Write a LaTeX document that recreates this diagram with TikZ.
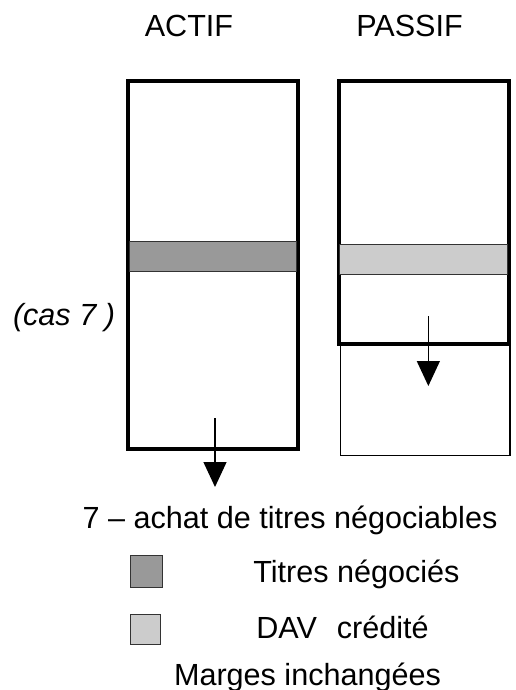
\documentclass[tikz,border=0pt]{standalone}
\usepackage{fontspec}
\setmainfont{Liberation Sans}
\usepackage{tikz}
\usetikzlibrary{arrows.meta,positioning}
\definecolor{gray1}{RGB}{153,153,153}
\definecolor{gray2}{RGB}{204,204,204}

\begin{document}
\begin{tikzpicture}
[auto,
bilan/.style ={rectangle, draw=black, line width=0.08cm, fill=white,
inner sep=0pt, outer sep=0pt},
extra/.style ={rectangle, draw=black, line width=0.7pt, fill=white,
inner sep=0pt, outer sep=0pt},
band/.style ={rectangle, draw=black!80, line width=0.5pt,
inner sep=0pt, outer sep=0pt},
label/.style ={inner sep=0pt, anchor=base},
line/.style ={draw, line width=0.75pt, -{Triangle[width=0.46cm,length=0.5cm]}}]
\fontsize{17.4}{20}\selectfont
\useasboundingbox (0,0) rectangle (10.3,-13.8);
%titles
\node [label]                (actif)   at (3.78, -0.74)        {ACTIF};
\node [label]                (passif)  at (8.19, -0.74)        {PASSIF};
\node [label]                (cas)     at (1.28, -6.5)         {\itshape (cas 7 )};
%balance sheet
\node [bilan, minimum width=3.394cm, minimum height=7.354cm] (ba)  at (4.257, -5.297) {};
\node [band, fill=gray1, minimum width=3.34cm, minimum height=0.586cm] (ta)  at (4.25, -5.127) {};
\node [extra, minimum width=3.386cm, minimum height=2.28cm] (bx)  at (8.507, -7.974) {};
\node [bilan, minimum width=3.4cm, minimum height=5.26cm] (bp)  at (8.48, -4.25) {};
\node [band, fill=gray2, minimum width=3.36cm, minimum height=0.594cm] (dp)  at (8.46, -5.183) {};
%arrows
\coordinate (a1) at (4.30, -8.36);
\coordinate (a2) at (4.30, -9.74);
\coordinate (p1) at (8.567, -6.32);
\coordinate (p2) at (8.567, -7.72);
\draw [line] (a1) to (a2);
\draw [line] (p1) to (p2);
%legend
\node [label]                (op)      at (5.8, -10.56)        {7 – achat de titres négociables};
\node [band, fill=gray1, minimum width=0.654cm, minimum height=0.64cm] (k1) at (2.927, -11.434) {};
\node [band, fill=gray2, minimum width=0.6cm, minimum height=0.594cm] (k2) at (2.9, -12.583) {};
\node [label, anchor=base west] (l1)   at (5.06, -11.64)       {Titres négociés};
\node [label, anchor=base west] (l2)   at (5.12, -12.76)       {DAV\hspace{0.4cm}crédité};
\node [label]                (marges)  at (6.15, -13.7)        {Marges inchangées};
\end{tikzpicture}
\end{document}
